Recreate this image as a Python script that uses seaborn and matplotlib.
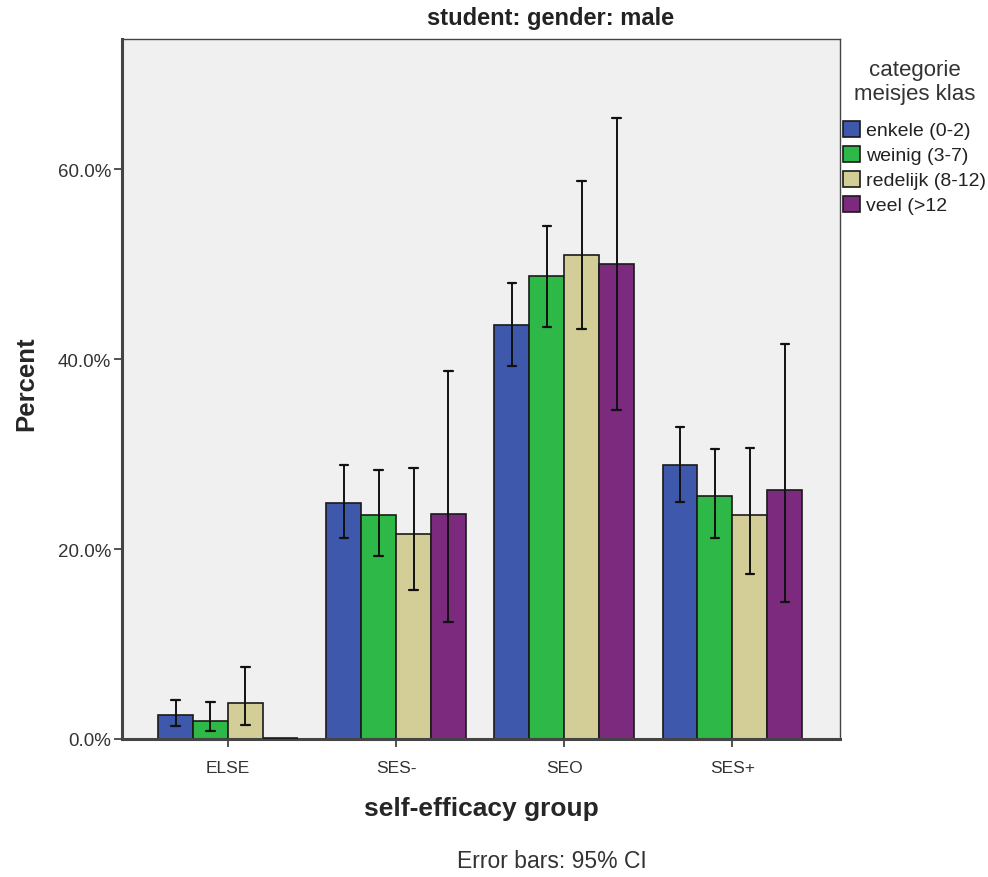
import pandas as pd
import seaborn as sns
import matplotlib
matplotlib.use("Agg")
import matplotlib.pyplot as plt
from matplotlib.ticker import FuncFormatter

# values (percent within each class group)
groups = ["ELSE", "SES-", "SEO", "SES+"]
classes = ["enkele (0-2)", "weinig (3-7)", "redelijk (8-12)", "veel (>12"]
enkele = [2.5, 24.8, 43.6, 28.8]
weinig = [1.9, 23.6, 48.7, 25.6]
redelijk = [3.8, 21.6, 51.0, 23.6]
veel = [0.0, 23.7, 50.0, 26.2]
# 95% CI limits
enkele_lo = [1.4, 21.2, 39.3, 25.0]
enkele_hi = [4.1, 28.8, 48.0, 32.9]
weinig_lo = [0.8, 19.3, 43.4, 21.2]
weinig_hi = [3.9, 28.3, 54.0, 30.5]
redelijk_lo = [1.5, 15.7, 43.2, 17.4]
redelijk_hi = [7.6, 28.5, 58.7, 30.6]
veel_lo = [None, 12.3, 34.6, 14.4]
veel_hi = [None, 38.7, 65.4, 41.6]

colors = ["#3E58AC", "#2EB848", "#D3CE97", "#7B2A7E"]

vals = [enkele, weinig, redelijk, veel]
los = [enkele_lo, weinig_lo, redelijk_lo, veel_lo]
his = [enkele_hi, weinig_hi, redelijk_hi, veel_hi]

rows = []
for c, v in zip(classes, vals):
    for g, p in zip(groups, v):
        rows.append({"group": g, "klas": c, "pct": p})
df = pd.DataFrame(rows)

sns.set_style("white")
plt.rcParams["font.family"] = ["Liberation Sans", "DejaVu Sans"]

fig = plt.figure(figsize=(9.88, 8.78), dpi=100)
ax = fig.add_axes([122 / 988, 138 / 878, 718 / 988, 700 / 878])
ax.set_facecolor("#F0F0F0")

sns.barplot(data=df, x="group", y="pct", hue="klas", order=groups, hue_order=classes,
            palette=colors, width=0.83, errorbar=None, edgecolor="#1a1a1a",
            linewidth=1.2, ax=ax, saturation=1)

# error bars from the CI lists
for cont, lo, hi in zip(ax.containers, los, his):
    for bar, l, h in zip(cont, lo, hi):
        if bar.get_height() == 0:
            bar.set_linewidth(2.6)
            bar.set_zorder(3)
        if l is None:
            continue
        xc = bar.get_x() + bar.get_width() / 2
        ax.plot([xc, xc], [l, h], color="#111111", lw=1.4, zorder=5)
        ax.plot([xc - 0.025, xc + 0.025], [l, l], color="#111111", lw=1.6, zorder=5)
        ax.plot([xc - 0.025, xc + 0.025], [h, h], color="#111111", lw=1.6, zorder=5)

ax.set_ylim(0, 73.7)
ax.set_xlim(-0.63, 3.64)
ax.set_yticks([0, 20, 40, 60])
ax.yaxis.set_major_formatter(FuncFormatter(lambda v, p: "%.1f%%" % v))
ax.tick_params(axis="both", direction="out", length=6, width=1.3, color="#444444",
               labelcolor="#333333", bottom=True, left=True)
ax.tick_params(axis="y", labelsize=13.5, pad=2)
ax.tick_params(axis="x", labelsize=12.5, pad=9)
for s in ax.spines.values():
    s.set_color("#444444")
    s.set_linewidth(1.0)
ax.spines["left"].set_linewidth(2.2)
ax.spines["bottom"].set_linewidth(2.2)

ax.set_xlabel("self-efficacy group", fontsize=19, fontweight="bold", labelpad=15)
ax.set_ylabel("Percent", fontsize=18.5, fontweight="bold")
ax.yaxis.set_label_coords(-0.117, 0.509)

fig.text(551 / 988, 1 - 18 / 878, "student: gender: male", ha="center", va="center",
         fontsize=17, fontweight="bold", color="#222222")
fig.text(552 / 988, 1 - 862 / 878, "Error bars: 95% CI", ha="center", va="center",
         fontsize=16.5, color="#333333")

leg = ax.legend(title="categorie\nmeisjes klas", loc="upper left",
                bbox_to_anchor=(835 / 988, 1 - 52 / 878), bbox_transform=fig.transFigure,
                frameon=False, fontsize=14, title_fontsize=16, handlelength=0.9,
                handleheight=0.9, handletextpad=0.3, labelspacing=0.32,
                borderaxespad=0)
leg._legend_box.sep = 12
leg.get_title().set_multialignment("center")
leg.get_title().set_color("#333333")
for t in leg.get_texts():
    t.set_color("#222222")

fig.savefig("out.png", dpi=100)
